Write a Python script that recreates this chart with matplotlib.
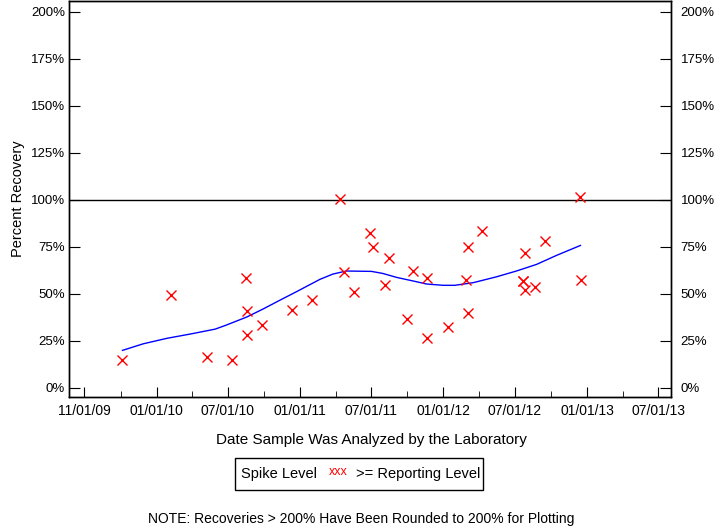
import datetime as dt

import matplotlib
matplotlib.use("Agg")
import matplotlib.pyplot as plt
import matplotlib.dates as mdates
from matplotlib.patches import Rectangle
from matplotlib.ticker import FixedLocator

plt.rcParams['font.family'] = ['Liberation Sans', 'DejaVu Sans']

################################################################################
# data
sample_dates = ['2009-10-06', '2010-02-07', '2010-05-09', '2010-07-13',
                '2010-08-17', '2010-08-18', '2010-08-18', '2010-09-27',
                '2010-12-12', '2011-02-01', '2011-04-12', '2011-04-23',
                '2011-05-18', '2011-06-29', '2011-07-06', '2011-08-05',
                '2011-08-15', '2011-10-01', '2011-10-15', '2011-11-20',
                '2011-11-20', '2012-01-12', '2012-02-27', '2012-03-03',
                '2012-03-03', '2012-04-08', '2012-07-23', '2012-07-23',
                '2012-07-26', '2012-07-26', '2012-08-21', '2012-09-15',
                '2012-12-15', '2012-12-16']
recovery = [14.7, 49.1, 16.5, 14.7,
            58.2, 40.8, 27.9, 33.2,
            41.2, 46.6, 100.4, 61.4,
            51.1, 82.4, 75.0, 54.5,
            69.1, 36.4, 62.1, 58.2,
            26.6, 32.1, 57.4, 74.7,
            39.6, 83.4, 56.9, 56.9,
            71.5, 51.8, 53.6, 77.9,
            101.3, 57.1]

# smoothed trend line
trend_dates = ['2009-10-06', '2009-11-28', '2010-01-27', '2010-03-28',
               '2010-05-30', '2010-06-28', '2010-08-18', '2010-09-29',
               '2010-11-11', '2010-12-23', '2011-02-21', '2011-03-26',
               '2011-04-29', '2011-07-02', '2011-07-31', '2011-09-04',
               '2011-10-16', '2011-11-19', '2011-12-31', '2012-01-30',
               '2012-03-17', '2012-05-15', '2012-07-05', '2012-08-25',
               '2012-10-15', '2012-12-15']
trend = [19.9, 23.4, 26.3, 28.6,
         31.2, 33.4, 37.6, 41.9,
         46.6, 51.1, 57.7, 60.5,
         62.1, 61.9, 60.8, 58.7,
         56.8, 55.2, 54.5, 54.5,
         55.9, 59.0, 62.1, 65.6,
         70.4, 75.7]

tick_dates = ['2009-07-01', '2010-01-01', '2010-07-01', '2011-01-01',
              '2011-07-01', '2012-01-01', '2012-07-01', '2013-01-01',
              '2013-07-01']
tick_labels = ['11/01/09', '01/01/10', '07/01/10', '01/01/11', '07/01/11',
               '01/01/12', '07/01/12', '01/01/13', '07/01/13']
y_ticks = [0, 25, 50, 75, 100, 125, 150, 175, 200]
################################################################################


def to_num(dates):
    return [mdates.date2num(dt.datetime.strptime(d, '%Y-%m-%d')) for d in dates]


x_pts = to_num(sample_dates)
x_trend = to_num(trend_dates)
x_ticks = to_num(tick_dates)
x_minor = [(a + b) / 2 for a, b in zip(x_ticks[:-1], x_ticks[1:])]
y_labels = [f'{v}%' for v in y_ticks]

fig = plt.figure(figsize=(7.2, 5.28), dpi=100)
ax = fig.add_axes([69 / 720, 1 - 397 / 528, 602 / 720, 396 / 528])

ax.axhline(100, color='black', linewidth=1.0)
ax.plot(x_trend, trend, color='blue', linewidth=1.0)
ax.plot(x_pts, recovery, linestyle='none', marker='x', color='red',
        markersize=6.5, markeredgewidth=1.0)

step = x_ticks[1] - x_ticks[0]
ax.set_xlim(x_ticks[0] - 0.213 * step, x_ticks[-1] + 0.177 * step)
ax.set_ylim(-4.9, 205.7)

ax.xaxis.set_major_locator(FixedLocator(x_ticks))
ax.xaxis.set_minor_locator(FixedLocator(x_minor))
ax.set_xticklabels(tick_labels, fontsize=10)
ax.tick_params(axis='x', which='major', direction='in', length=7, pad=5)
ax.tick_params(axis='x', which='minor', direction='in', length=4)

ax.set_yticks(y_ticks)
ax.set_yticklabels(y_labels, fontsize=9.5)
ax.tick_params(axis='y', direction='in', length=8, pad=3)

# right side labels
ax_r = ax.twinx()
ax_r.set_ylim(ax.get_ylim())
ax_r.set_yticks(y_ticks)
ax_r.set_yticklabels(y_labels, fontsize=9.5)
ax_r.tick_params(axis='y', direction='in', length=8, pad=7)

for a in (ax, ax_r):
    for s in a.spines.values():
        s.set_linewidth(1.0)

ax.set_ylabel('Percent Recovery', fontsize=10.5)
ax.yaxis.set_label_coords(-44 / 602, 0.5)
fig.text(371 / 720, 1 - 440 / 528, 'Date Sample Was Analyzed by the Laboratory',
         ha='center', va='center', fontsize=11)

# legend box
fig.patches.append(Rectangle((235 / 720, 1 - 490 / 528), 248 / 720, 32 / 528,
                             transform=fig.transFigure, fill=False,
                             edgecolor='black', linewidth=1.0))
ly = 1 - 474 / 528
fig.text(241 / 720, ly, 'Spike Level', ha='left', va='center', fontsize=10.5)
fig.text(329 / 720, ly + 0.004, 'xxx', ha='left', va='center', fontsize=9,
         color='red')
fig.text(356 / 720, ly, '>= Reporting Level', ha='left', va='center',
         fontsize=10.5)

fig.text(361 / 720, 1 - 519 / 528,
         'NOTE: Recoveries > 200% Have Been Rounded to 200% for Plotting',
         ha='center', va='center', fontsize=10)

fig.savefig('out.png', dpi=100)
